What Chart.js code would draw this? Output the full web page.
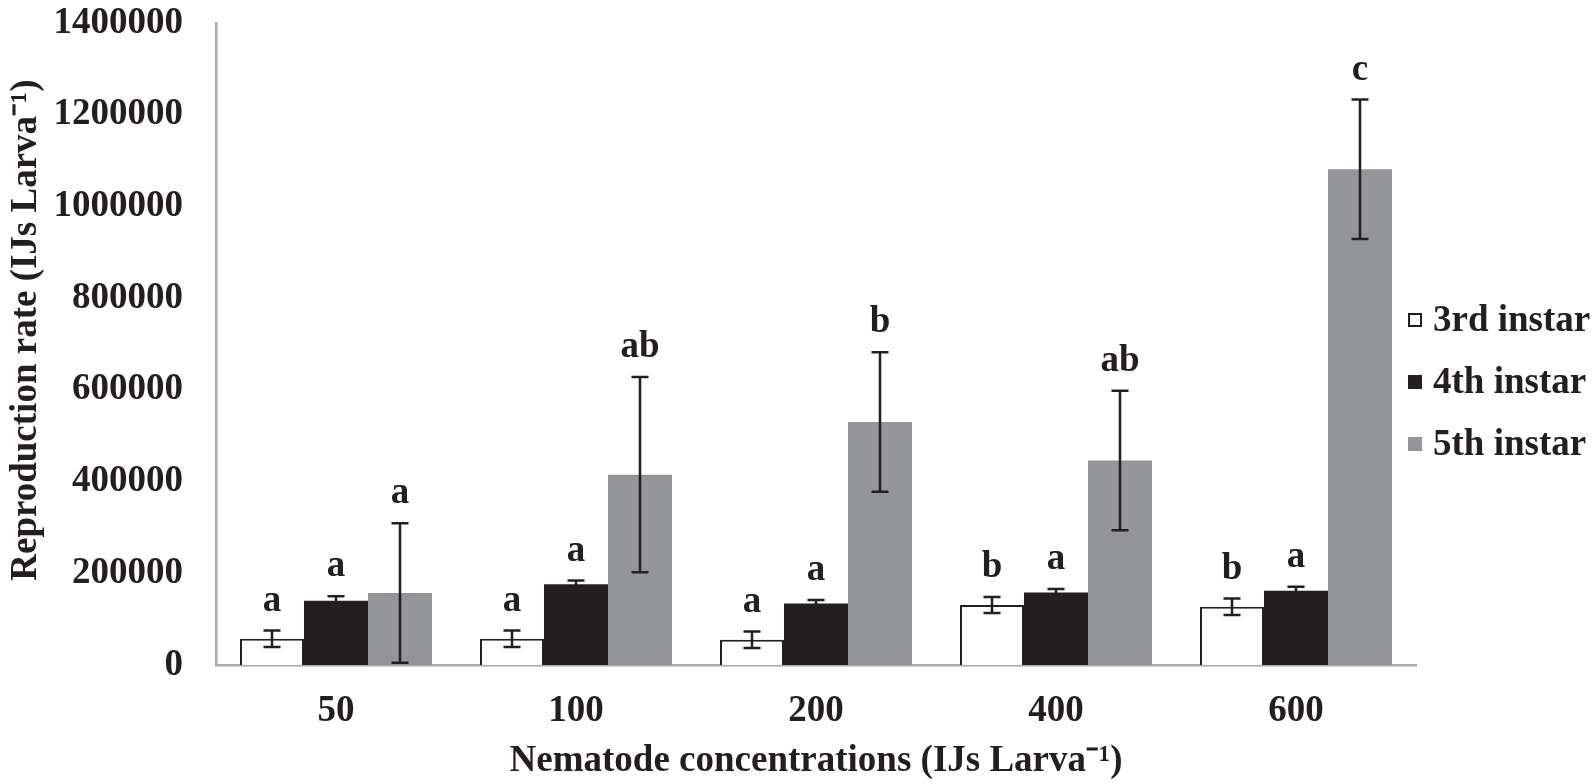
<!DOCTYPE html>
<html>
<head>
<meta charset="utf-8">
<script src="https://cdn.jsdelivr.net/npm/chart.js@4"></script>
<style>
  html, body { margin: 0; padding: 0; background: #ffffff; }
  #wrap { position: relative; width: 1596px; height: 784px; }
</style>
</head>
<body>
<div id="wrap"><canvas id="c"></canvas></div>
<script>
// ---- data ----
const categories = ['50', '100', '200', '400', '600'];
const seriesNames = ['3rd instar', '4th instar', '5th instar'];
const instar3 = [57000, 57000, 55000, 131000, 127000];
const instar4 = [140000, 176000, 134000, 158000, 162000];
const instar5 = [157000, 415000, 530000, 446000, 1081000];
const err3 = [18000, 18000, 18000, 17500, 18000];
const err4 = [10000, 8000, 8000, 7500, 8500];
const err5 = [152000, 213000, 152000, 152000, 152000];
const letters3 = ['a', 'a', 'a', 'b', 'b'];
const letters4 = ['a', 'a', 'a', 'a', 'a'];
const letters5 = ['a', 'ab', 'b', 'ab', 'c'];
const yMin = 0, yMax = 1400000, yStep = 200000;
const xTitle = 'Nematode concentrations (IJs Larva\u207B\u00B9)';
const yTitle = 'Reproduction rate (IJs Larva\u207B\u00B9)';

// ---- styles ----
const INK = '#231f20';
const GREY = '#939598';
const AXIS = '#a7a9ac';
const FAMILY = '"Liberation Serif", "Times New Roman", serif';

const errors = [err3, err4, err5];
const letters = [letters3, letters4, letters5];

const errorBarPlugin = {
  id: 'errorBars',
  afterDatasetsDraw(chart) {
    const ctx = chart.ctx;
    const y = chart.scales.y;
    ctx.save();
    chart.data.datasets.forEach((ds, di) => {
      const meta = chart.getDatasetMeta(di);
      meta.data.forEach((bar, i) => {
        const v = ds.data[i];
        const e = errors[di][i];
        const top = y.getPixelForValue(v + e);
        const bot = y.getPixelForValue(Math.max(0, v - e));
        const x = bar.x;
        ctx.strokeStyle = INK;
        ctx.lineWidth = 2.5;
        ctx.beginPath();
        ctx.moveTo(x, top); ctx.lineTo(x, bot);
        ctx.moveTo(x - 8.5, top); ctx.lineTo(x + 8.5, top);
        ctx.moveTo(x - 8.5, bot); ctx.lineTo(x + 8.5, bot);
        ctx.stroke();
        ctx.fillStyle = INK;
        ctx.font = 'bold 37px ' + FAMILY;
        ctx.textAlign = 'center';
        ctx.textBaseline = 'alphabetic';
        ctx.fillText(letters[di][i], x, top - 20);
      });
    });
    ctx.restore();
  }
};

const legendPlugin = {
  id: 'sideLegend',
  afterDraw(chart) {
    const ctx = chart.ctx;
    const rows = [320, 382, 444];
    ctx.save();
    ctx.font = 'bold 37px ' + FAMILY;
    ctx.textAlign = 'left';
    ctx.textBaseline = 'middle';
    chart.data.datasets.forEach((ds, di) => {
      const ry = rows[di];
      ctx.fillStyle = ds.backgroundColor;
      ctx.fillRect(1408, ry - 7, 14, 14);
      if (ds.borderWidth) {
        ctx.strokeStyle = ds.borderColor;
        ctx.lineWidth = 2;
        ctx.strokeRect(1409, ry - 6, 12, 12);
      }
      ctx.fillStyle = INK;
      ctx.fillText(ds.label, 1433, ry + 1);
    });
    ctx.restore();
  }
};

new Chart(document.getElementById('c'), {
  type: 'bar',
  data: {
    labels: categories,
    datasets: [
      { label: seriesNames[0], data: instar3, backgroundColor: '#ffffff', borderColor: INK, borderWidth: 2, borderSkipped: 'bottom' },
      { label: seriesNames[1], data: instar4, backgroundColor: INK, borderWidth: 0 },
      { label: seriesNames[2], data: instar5, backgroundColor: GREY, borderWidth: 0 }
    ]
  },
  options: {
    responsive: true,
    maintainAspectRatio: false,
    animation: false,
    devicePixelRatio: 1,
    layout: { padding: { left: 0, right: 180, top: 0, bottom: 0 } },
    datasets: { bar: { categoryPercentage: 0.8, barPercentage: 1.0 } },
    plugins: {
      legend: { display: false },
      tooltip: { enabled: false }
    },
    scales: {
      x: {
        grid: { display: false, drawTicks: false },
        border: { display: true, color: AXIS, width: 2.5 },
        ticks: { color: INK, padding: 24, maxRotation: 0, font: { family: FAMILY, size: 37, weight: 'bold' } },
        title: { display: true, text: xTitle, color: INK, padding: { top: 5, bottom: 0 }, font: { family: FAMILY, size: 37, weight: 'bold' } },
        afterFit(scale) { scale.height = 119; scale.paddingLeft = 0; scale.paddingRight = 0; }
      },
      y: {
        min: yMin, max: yMax,
        grid: { display: false, drawTicks: false },
        border: { display: true, color: AXIS, width: 2.5 },
        ticks: { stepSize: yStep, color: INK, padding: 33, font: { family: FAMILY, size: 37, weight: 'bold' }, callback: v => String(v) },
        // leading spaces nudge the rotated title's visible centre upward, as in the reference
        title: { display: true, text: '   ' + yTitle, color: INK, padding: { top: 4, bottom: 4 }, font: { family: FAMILY, size: 37, weight: 'bold' } },
        afterFit(scale) { scale.width = 216; scale.paddingTop = 23; scale.paddingBottom = 0; }
      }
    }
  },
  plugins: [errorBarPlugin, legendPlugin]
});
</script>
</body>
</html>
